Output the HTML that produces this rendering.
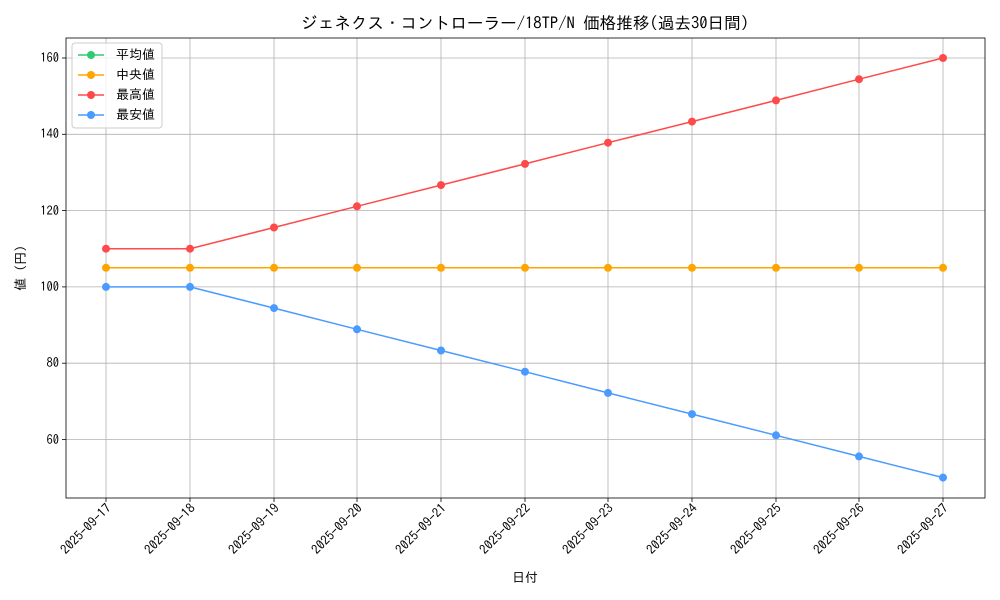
<!DOCTYPE html>
<html><head><meta charset="utf-8"><style>
html,body{margin:0;padding:0;background:#fff;}
svg{display:block;font-family:"IPAGothic","Noto Sans CJK JP",monospace;}
</style></head><body>
<svg width="1000" height="600" viewBox="0 0 1000 600" xmlns="http://www.w3.org/2000/svg">
<rect width="1000" height="600" fill="#fff"/>
<text x="525" y="29" font-size="16.6" text-anchor="middle" fill="#000">ジェネクス・コントローラー/18TP/N 価格推移(過去30日間)</text>
<g stroke="#b0b0b0" stroke-width="0.8">
<line x1="106" y1="38" x2="106" y2="498"/><line x1="190" y1="38" x2="190" y2="498"/><line x1="274" y1="38" x2="274" y2="498"/><line x1="357" y1="38" x2="357" y2="498"/><line x1="441" y1="38" x2="441" y2="498"/><line x1="525" y1="38" x2="525" y2="498"/><line x1="608" y1="38" x2="608" y2="498"/><line x1="692" y1="38" x2="692" y2="498"/><line x1="776" y1="38" x2="776" y2="498"/><line x1="859" y1="38" x2="859" y2="498"/><line x1="943" y1="38" x2="943" y2="498"/>
<line x1="66" y1="58" x2="985" y2="58"/><line x1="66" y1="134.3" x2="985" y2="134.3"/><line x1="66" y1="210.6" x2="985" y2="210.6"/><line x1="66" y1="286.9" x2="985" y2="286.9"/><line x1="66" y1="363.2" x2="985" y2="363.2"/><line x1="66" y1="439.5" x2="985" y2="439.5"/>
</g>
<rect x="66" y="38" width="919" height="460" fill="none" stroke="#000" stroke-width="0.8"/>
<g font-size="12.5" fill="#000" text-anchor="end">
<text x="59" y="62">160</text><text x="59" y="138">140</text><text x="59" y="215">120</text><text x="59" y="291">100</text><text x="59" y="367">80</text><text x="59" y="444">60</text>
</g>
<g stroke="#000" stroke-width="0.8">
<line x1="62" y1="58" x2="66" y2="58"/><line x1="62" y1="134.3" x2="66" y2="134.3"/><line x1="62" y1="210.6" x2="66" y2="210.6"/><line x1="62" y1="286.9" x2="66" y2="286.9"/><line x1="62" y1="363.2" x2="66" y2="363.2"/><line x1="62" y1="439.5" x2="66" y2="439.5"/>
<line x1="106" y1="498" x2="106" y2="502"/><line x1="190" y1="498" x2="190" y2="502"/><line x1="274" y1="498" x2="274" y2="502"/><line x1="357" y1="498" x2="357" y2="502"/><line x1="441" y1="498" x2="441" y2="502"/><line x1="525" y1="498" x2="525" y2="502"/><line x1="608" y1="498" x2="608" y2="502"/><line x1="692" y1="498" x2="692" y2="502"/><line x1="776" y1="498" x2="776" y2="502"/><line x1="859" y1="498" x2="859" y2="502"/><line x1="943" y1="498" x2="943" y2="502"/>
</g>
<g font-size="13" fill="#000" text-anchor="end">
<text transform="translate(112,509) rotate(-45)">2025-09-17</text>
<text transform="translate(196,509) rotate(-45)">2025-09-18</text>
<text transform="translate(280,509) rotate(-45)">2025-09-19</text>
<text transform="translate(363,509) rotate(-45)">2025-09-20</text>
<text transform="translate(447,509) rotate(-45)">2025-09-21</text>
<text transform="translate(531,509) rotate(-45)">2025-09-22</text>
<text transform="translate(614,509) rotate(-45)">2025-09-23</text>
<text transform="translate(698,509) rotate(-45)">2025-09-24</text>
<text transform="translate(782,509) rotate(-45)">2025-09-25</text>
<text transform="translate(865,509) rotate(-45)">2025-09-26</text>
<text transform="translate(949,509) rotate(-45)">2025-09-27</text>
</g>
<text x="525" y="582" font-size="13" text-anchor="middle">日付</text>
<text transform="translate(25,268) rotate(-90)" font-size="13" text-anchor="middle">値 (円)</text>
<polyline fill="none" stroke="#2ecc71" stroke-width="1.5" points="106,267.8 943,267.8"/>
<polyline fill="none" stroke="#ffa500" stroke-width="1.5" points="106,267.8 190,267.8 274,267.8 357,267.8 441,267.8 525,267.8 608,267.8 692,267.8 776,267.8 859,267.8 943,267.8"/>
<g fill="#ffa500"><circle cx="106" cy="267.8" r="4"/><circle cx="190" cy="267.8" r="4"/><circle cx="274" cy="267.8" r="4"/><circle cx="357" cy="267.8" r="4"/><circle cx="441" cy="267.8" r="4"/><circle cx="525" cy="267.8" r="4"/><circle cx="608" cy="267.8" r="4"/><circle cx="692" cy="267.8" r="4"/><circle cx="776" cy="267.8" r="4"/><circle cx="859" cy="267.8" r="4"/><circle cx="943" cy="267.8" r="4"/></g>
<polyline fill="none" stroke="#ff4a4a" stroke-width="1.5" points="106,248.7 190,248.7 274,227.5 357,206.3 441,185.1 525,163.9 608,142.7 692,121.6 776,100.4 859,79.2 943,58"/>
<g fill="#ff4a4a"><circle cx="106" cy="248.7" r="4"/><circle cx="190" cy="248.7" r="4"/><circle cx="274" cy="227.5" r="4"/><circle cx="357" cy="206.3" r="4"/><circle cx="441" cy="185.1" r="4"/><circle cx="525" cy="163.9" r="4"/><circle cx="608" cy="142.7" r="4"/><circle cx="692" cy="121.6" r="4"/><circle cx="776" cy="100.4" r="4"/><circle cx="859" cy="79.2" r="4"/><circle cx="943" cy="58" r="4"/></g>
<polyline fill="none" stroke="#4a9bff" stroke-width="1.5" points="106,286.9 190,286.9 274,308.1 357,329.3 441,350.5 525,371.7 608,392.9 692,414.1 776,435.3 859,456.4 943,477.6"/>
<g fill="#4a9bff"><circle cx="106" cy="286.9" r="4"/><circle cx="190" cy="286.9" r="4"/><circle cx="274" cy="308.1" r="4"/><circle cx="357" cy="329.3" r="4"/><circle cx="441" cy="350.5" r="4"/><circle cx="525" cy="371.7" r="4"/><circle cx="608" cy="392.9" r="4"/><circle cx="692" cy="414.1" r="4"/><circle cx="776" cy="435.3" r="4"/><circle cx="859" cy="456.4" r="4"/><circle cx="943" cy="477.6" r="4"/></g>
<rect x="72" y="43" width="90" height="85" rx="3" fill="#fff" fill-opacity="0.8" stroke="#ccc"/>
<g stroke-width="1.5">
<line x1="78" y1="55" x2="104" y2="55" stroke="#2ecc71"/><circle cx="91" cy="55" r="4" fill="#2ecc71"/>
<line x1="78" y1="75" x2="104" y2="75" stroke="#ffa500"/><circle cx="91" cy="75" r="4" fill="#ffa500"/>
<line x1="78" y1="95" x2="104" y2="95" stroke="#ff4a4a"/><circle cx="91" cy="95" r="4" fill="#ff4a4a"/>
<line x1="78" y1="115" x2="104" y2="115" stroke="#4a9bff"/><circle cx="91" cy="115" r="4" fill="#4a9bff"/>
</g>
<g font-size="13" fill="#000">
<text x="116" y="59">平均値</text><text x="116" y="79">中央値</text><text x="116" y="99">最高値</text><text x="116" y="119">最安値</text>
</g>
</svg>
</body></html>
